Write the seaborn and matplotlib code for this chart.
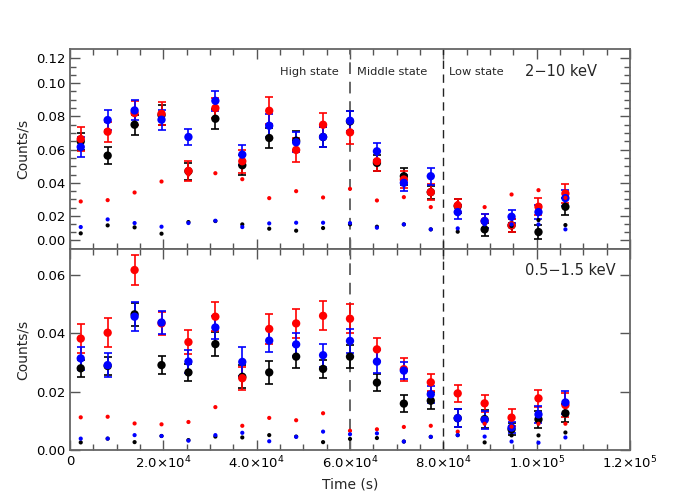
import numpy as np
import pandas as pd
import matplotlib
matplotlib.use("Agg")
import matplotlib.pyplot as plt
import seaborn as sns
from matplotlib.ticker import MultipleLocator, FixedLocator

# time bins (s)
tempo = [2300, 8070, 13840, 19610, 25380, 31150, 36920, 42690, 48460, 54230,
         60000, 65770, 71540, 77310, 83080, 88850, 94620, 100390, 106160]

# 2-10 keV, fonte (pontos grandes) e erros
hard_black = [0.065, 0.0564, 0.075, 0.0808, 0.047, 0.0786, 0.0506, 0.067, 0.0654, 0.0676,
              0.077, 0.052, 0.044, 0.0344, 0.026, 0.012, 0.0144, 0.0104, 0.0256]
hard_red = [0.0664, 0.0708, 0.082, 0.0816, 0.0472, 0.085, 0.053, 0.0834, 0.0598, 0.075,
            0.0704, 0.053, 0.042, 0.0344, 0.0264, 0.017, 0.0144, 0.0256, 0.0336]
hard_blue = [0.0616, 0.0778, 0.0836, 0.078, 0.0676, 0.0894, 0.057, 0.0744, 0.0644, 0.0676,
             0.0774, 0.059, 0.040, 0.044, 0.0224, 0.017, 0.0196, 0.0224, 0.0308]
hard_black_err = [0.005, 0.005, 0.006, 0.006, 0.005, 0.006, 0.006, 0.006, 0.006, 0.006,
                  0.006, 0.005, 0.005, 0.004, 0.004, 0.004, 0.004, 0.004, 0.005]
hard_red_err = [0.007, 0.006, 0.007, 0.007, 0.006, 0.006, 0.007, 0.008, 0.007, 0.007,
                0.007, 0.006, 0.005, 0.005, 0.004, 0.004, 0.004, 0.005, 0.006]
hard_blue_err = [0.006, 0.006, 0.006, 0.006, 0.005, 0.006, 0.006, 0.007, 0.006, 0.006,
                 0.006, 0.005, 0.005, 0.005, 0.004, 0.004, 0.004, 0.004, 0.005]
# 2-10 keV, fundo (pontos pequenos)
hard_black_bg = [0.0096, 0.0144, 0.0132, 0.0094, 0.0164, 0.017, 0.015, 0.0124, 0.0112, 0.0128,
                 0.015, 0.0136, 0.015, 0.012, 0.0106, 0.0136, 0.014, 0.0176, 0.0146]
hard_red_bg = [0.0288, 0.0296, 0.0342, 0.0408, 0.045, 0.0458, 0.0422, 0.0308, 0.035, 0.0312,
               0.0364, 0.0294, 0.0314, 0.0254, 0.028, 0.0254, 0.033, 0.0356, 0.031]
hard_blue_bg = [0.0134, 0.018, 0.0158, 0.0136, 0.0158, 0.0172, 0.0134, 0.0156, 0.016, 0.016,
                0.0158, 0.013, 0.015, 0.012, 0.0126, 0.015, 0.015, 0.015, 0.012]

# 0.5-1.5 keV, fonte
soft_black = [0.028, 0.0288, 0.0465, 0.0291, 0.0266, 0.0363, 0.0251, 0.0266, 0.032, 0.0278,
              0.032, 0.0231, 0.0159, 0.0169, 0.0109, 0.0106, 0.0071, 0.0105, 0.0126]
soft_red = [0.0382, 0.0402, 0.0617, 0.0434, 0.037, 0.0457, 0.0246, 0.0415, 0.0434, 0.046,
            0.045, 0.0345, 0.0277, 0.0232, 0.0194, 0.016, 0.0111, 0.0177, 0.0154]
soft_blue = [0.0314, 0.0291, 0.0457, 0.0437, 0.0303, 0.042, 0.0302, 0.0375, 0.0362, 0.0325,
             0.0374, 0.0303, 0.0272, 0.0191, 0.0109, 0.0103, 0.0077, 0.0122, 0.0163]
soft_black_err = [0.003, 0.003, 0.004, 0.003, 0.003, 0.004, 0.004, 0.004, 0.004, 0.003,
                  0.004, 0.003, 0.003, 0.003, 0.003, 0.003, 0.002, 0.003, 0.003]
soft_red_err = [0.005, 0.005, 0.005, 0.004, 0.004, 0.005, 0.004, 0.005, 0.005, 0.005,
                0.005, 0.004, 0.004, 0.003, 0.003, 0.003, 0.003, 0.003, 0.004]
soft_blue_err = [0.004, 0.004, 0.005, 0.004, 0.004, 0.004, 0.005, 0.004, 0.004, 0.004,
                 0.004, 0.004, 0.003, 0.003, 0.003, 0.003, 0.002, 0.003, 0.004]
# 0.5-1.5 keV, fundo
soft_black_bg = [0.0026, 0.0039, 0.0027, 0.0048, 0.0034, 0.0046, 0.0043, 0.0051, 0.0046, 0.0027,
                 0.0038, 0.0041, 0.0029, 0.0045, 0.0051, 0.0026, 0.005, 0.005, 0.006]
soft_red_bg = [0.0112, 0.0114, 0.0091, 0.0088, 0.0096, 0.0147, 0.0083, 0.011, 0.0102, 0.0126,
               0.0066, 0.0071, 0.0079, 0.0083, 0.0063, 0.009, 0.008, 0.009, 0.009]
soft_blue_bg = [0.0039, 0.0039, 0.0051, 0.0048, 0.0032, 0.0051, 0.0059, 0.003, 0.0045, 0.0063,
                0.0054, 0.0057, 0.0029, 0.0045, 0.0051, 0.0046, 0.0029, 0.0025, 0.0043]

cores = {"black": "black", "red": "#ff0000", "blue": "#0000ff"}


def montar_df(src, err, bg):
    linhas = []
    for cor in ["black", "red", "blue"]:
        for t, v, e, b in zip(tempo, src[cor], err[cor], bg[cor]):
            linhas.append({"tempo": t, "cor": cor, "src": v, "err": e, "bg": b})
    return pd.DataFrame(linhas)


df_hard = montar_df({"black": hard_black, "red": hard_red, "blue": hard_blue},
                    {"black": hard_black_err, "red": hard_red_err, "blue": hard_blue_err},
                    {"black": hard_black_bg, "red": hard_red_bg, "blue": hard_blue_bg})
df_soft = montar_df({"black": soft_black, "red": soft_red, "blue": soft_blue},
                    {"black": soft_black_err, "red": soft_red_err, "blue": soft_blue_err},
                    {"black": soft_black_bg, "red": soft_red_bg, "blue": soft_blue_bg})

sns.set_style("ticks")
plt.rcParams["font.family"] = ["DejaVu Sans"]
plt.rcParams["mathtext.fontset"] = "dejavusans"

fig = plt.figure(figsize=(7, 5), dpi=100)
ax1 = fig.add_axes([0.1, 0.5014, 0.8, 0.4])
ax2 = fig.add_axes([0.1, 0.1, 0.8, 0.4014])


def desenhar(ax, df):
    for cor in ["black", "red", "blue"]:
        d = df[df["cor"] == cor]
        ax.errorbar(d["tempo"], d["src"], yerr=d["err"], fmt="none", ecolor=cores[cor],
                    elinewidth=1.2, capsize=3, capthick=1.2, zorder=2)
        sns.scatterplot(x=d["tempo"], y=d["src"], color=cores[cor], s=36, edgecolor="none",
                        ax=ax, zorder=3, legend=False)
    for cor in ["black", "red", "blue"]:
        d = df[df["cor"] == cor]
        sns.scatterplot(x=d["tempo"], y=d["bg"], color=cores[cor], s=9, edgecolor="none",
                        ax=ax, zorder=3, legend=False)
    ax.axvline(60000, color="#666666", ls=(0, (6, 4)), lw=1.4, zorder=1)
    ax.axvline(80000, color="#222222", ls=(0, (6, 4)), lw=1.0, zorder=1)
    ax.set_xlim(0, 120000)
    ax.xaxis.set_major_locator(MultipleLocator(20000))
    ax.xaxis.set_minor_locator(MultipleLocator(5000))
    ax.tick_params(which="both", direction="in", top=True, right=True, colors="#555555",
                   labelcolor="black", labelsize=9.5, width=1.0)
    ax.tick_params(which="major", length=7)
    ax.tick_params(which="minor", length=4)
    for s in ax.spines.values():
        s.set_color("#666666")
        s.set_linewidth(1.3)
    ax.set_ylabel("Counts/s", fontsize=10)


desenhar(ax1, df_hard)
desenhar(ax2, df_soft)

# painel de cima
ax1.set_ylim(0, 0.1204)
ax1.yaxis.set_major_locator(FixedLocator([0.0054, 0.02, 0.04, 0.06, 0.08, 0.10, 0.1154]))
ax1.set_yticklabels(["0.00", "0.02", "0.04", "0.06", "0.08", "0.10", "0.12"])
ax1.yaxis.set_minor_locator(FixedLocator([0.0104, 0.0154, 0.025, 0.03, 0.035, 0.045, 0.05, 0.055,
                                          0.065, 0.07, 0.075, 0.085, 0.09, 0.095, 0.105, 0.11]))
ax1.set_xticklabels([])
ax1.set_xlabel("")
ax1.text(0.375, 0.885, "High state", transform=ax1.transAxes, fontsize=8.2, va="center")
ax1.text(0.5125, 0.885, "Middle state", transform=ax1.transAxes, fontsize=8.2, va="center")
ax1.text(0.677, 0.885, "Low state", transform=ax1.transAxes, fontsize=8.2, va="center")
ax1.text(0.8125, 0.89, "2\u221210 keV", transform=ax1.transAxes, fontsize=10.5, va="center")

# painel de baixo
ax2.set_ylim(0, 0.0688)
ax2.yaxis.set_major_locator(FixedLocator([0.0, 0.02, 0.04, 0.06]))
ax2.set_yticklabels(["0.00", "0.02", "0.04", "0.06"])
ax2.yaxis.set_minor_locator(FixedLocator([]))
ax2.set_xticks([0, 20000, 40000, 60000, 80000, 100000, 120000])
ax2.set_xticklabels(["0", r"2.0$\times$10$^4$", r"4.0$\times$10$^4$", r"6.0$\times$10$^4$",
                     r"8.0$\times$10$^4$", r"1.0$\times$10$^5$", r"1.2$\times$10$^5$"])
ax2.set_xlabel("Time (s)", fontsize=10)
ax2.text(0.8125, 0.892, "0.5\u22121.5 keV", transform=ax2.transAxes, fontsize=10.5, va="center")

fig.savefig("out.png", dpi=100)
